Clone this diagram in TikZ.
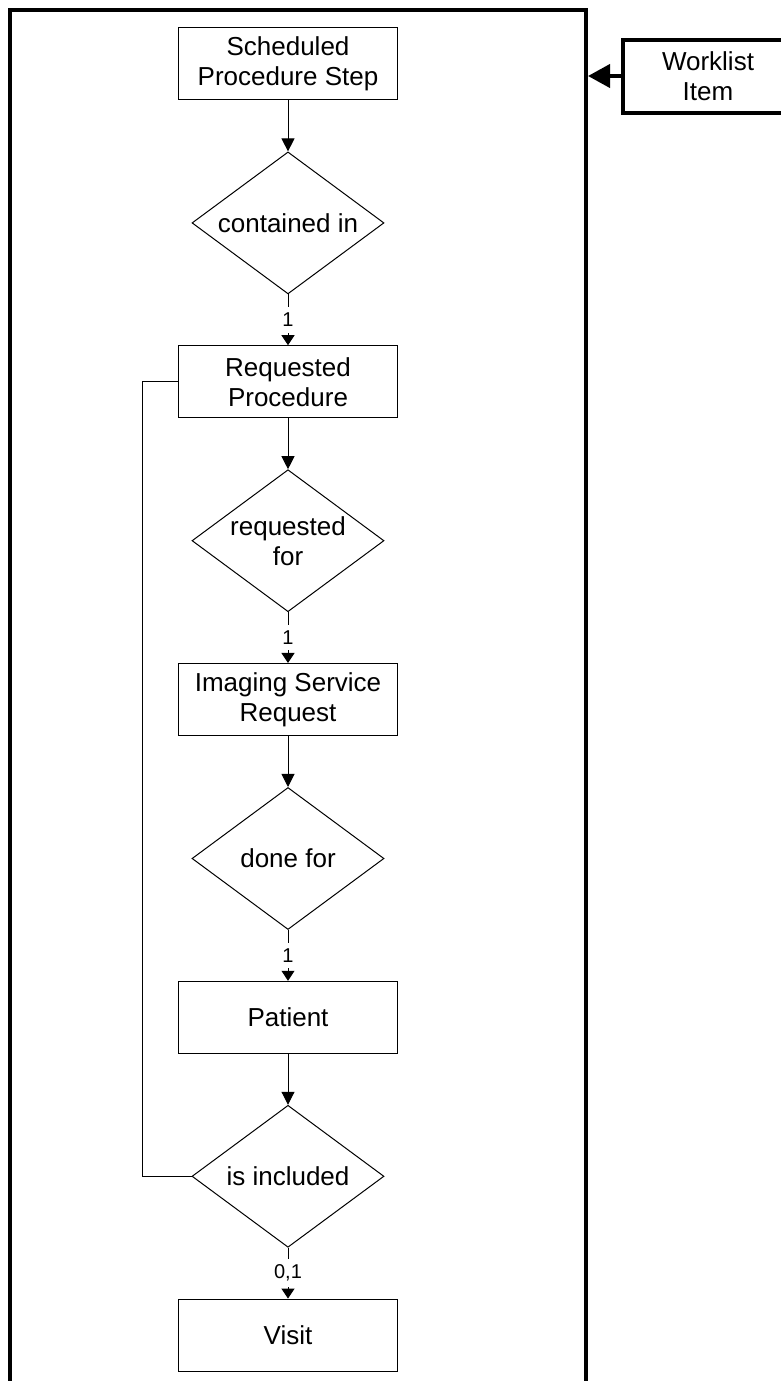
\documentclass[tikz,border=0pt]{standalone}
\usepackage{fontspec}
\setmainfont{Liberation Sans}
\usetikzlibrary{%
   arrows.meta,%
   shapes.geometric,%
   matrix,%
   positioning%
}

\begin{document}
\begin{tikzpicture}[x=0.5pt,y=-0.5pt,entity/.style={
	rectangle,
	minimum width=109.5pt,
	minimum height=36pt,
	line width=0.5pt,
	draw=black,
	align=center,
	font=\fontsize{13}{15}\selectfont
	},relation/.style={
	diamond,shape aspect=1.35,inner sep=0pt,
	minimum width=96pt,minimum height=71pt,
	line width=0.5pt,draw=black,
	align=center,
	font=\fontsize{13}{15}\selectfont
	},card/.style={
	fill=white,inner sep=3pt,
	font=\fontsize{10}{11}\selectfont
	},tip/.style={
	-{Triangle[length=6.5pt,width=6.5pt]},line width=0.5pt
	},small tip/.style={
	-{Triangle[length=5pt,width=6.5pt]},line width=0.5pt
	}
]
\useasboundingbox (0,0) rectangle (781,1381);

% outer frame, bottom runs off the page
\node (frame) [draw,line width=2pt,inner sep=0pt,anchor=north west,
	minimum width=288pt,minimum height=706pt] at (8,8) {};

\matrix (chart) [row sep=25.5pt,inner sep=0pt,anchor=north] at (288,27) {
% First entity
\node (box1) [entity] {Scheduled\\Procedure Step}; \\
\node (rel1) [relation] {contained in}; \\
% Second entity
\node (box2) [entity] {Requested\\Procedure}; \\
\node (rel2) [relation] {requested\\for}; \\
% Third entity
\node (box3) [entity] {Imaging Service\\Request}; \\
\node (rel3) [relation] {done for}; \\
% Fourth entity
\node (box4) [entity] {Patient}; \\
\node (rel4) [relation] {is included}; \\
% Fifth entity
\node (box5) [entity] {Visit}; \\
};

\node (item) [draw,line width=2pt,minimum width=85pt,minimum height=36.5pt,
	align=center,font=\fontsize{13}{15}\selectfont] at (708,76) {Worklist\\Item};

\path	(box1) edge[tip] (rel1)
	(rel1) edge[small tip] node[card] {1} (box2)
	(box2) edge[tip] (rel2)
	(rel2) edge[small tip] node[card] {1} (box3)
	(box3) edge[tip] (rel3)
	(rel3) edge[small tip] node[card] {1} (box4)
	(box4) edge[tip] (rel4)
	(rel4) edge[small tip] node[card] {0,1} (box5);

\draw[line width=0.5pt] (box2.west) -- ++(-36,0) |- (rel4.west);

\draw[line width=2pt,-{Triangle[length=11pt,width=11.5pt]}]
	(item.west) -- (item.west -| frame.east);

\end{tikzpicture}
\end{document}
